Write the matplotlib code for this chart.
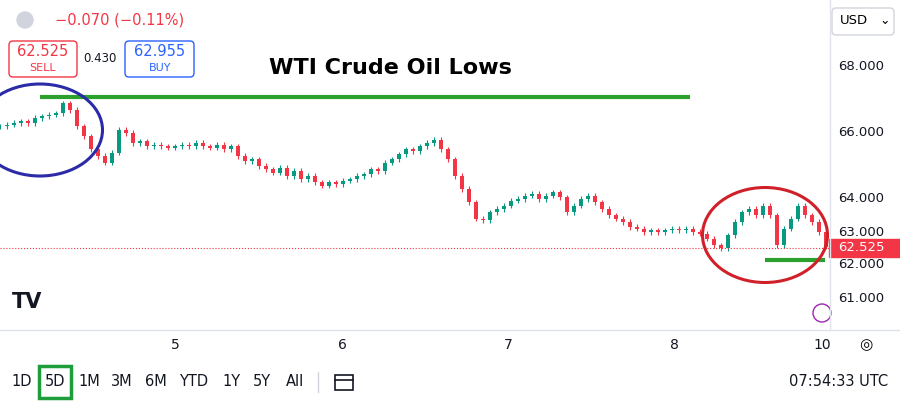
import matplotlib
matplotlib.use("Agg")
import matplotlib.pyplot as plt
from matplotlib.patches import Ellipse, FancyBboxPatch, Rectangle

closes = [66.2,66.25,66.3,66.35,66.3,66.45,66.5,66.55,66.6,66.9,66.7,66.2,65.9,65.5,65.3,65.1,65.4,66.1,66.0,65.7,
65.75,65.6,65.65,65.6,65.55,65.6,65.65,65.6,65.7,65.6,65.55,65.65,65.5,65.6,65.3,65.15,65.2,65.0,64.9,64.8,
64.95,64.7,64.85,64.6,64.7,64.5,64.4,64.5,64.45,64.55,64.6,64.7,64.75,64.9,64.85,65.1,65.2,65.35,65.5,65.45,
65.6,65.7,65.8,65.5,65.2,64.7,64.3,63.9,63.4,63.35,63.6,63.7,63.8,63.95,64.0,64.1,64.15,64.0,64.1,64.2,
64.05,63.6,63.8,64.0,64.1,63.9,63.7,63.5,63.4,63.3,63.15,63.1,63.0,63.05,63.0,63.05,63.1,63.05,63.1,63.0,
62.95,62.8,62.6,62.5,62.9,63.3,63.6,63.7,63.5,63.8,63.5,62.6,63.1,63.4,63.8,63.5,63.3,63.0,62.55]
wick = 0.08
last_price = 62.525
day_labels = ['5', '6', '7', '8', '10']
day_pos = [25.1, 48.9, 72.6, 96.3, 117.4]
price_ticks = [61, 62, 63, 64, 66, 68]
high_level = 67.1
low_level = 62.15
ranges = ['1D', '5D', '1M', '3M', '6M', 'YTD', '1Y', '5Y', 'All']

W, H = 900, 405
fig = plt.figure(figsize=(9, 4.05), dpi=100)
ax = fig.add_axes([0, 75/H, 830/W, 330/H])
up, dn = '#089981', '#F23645'
prev = closes[0]
for i, c in enumerate(closes):
    o = prev
    col = up if c >= o else dn
    ax.vlines(i, min(o, c) - wick, max(o, c) + wick, color=col, lw=0.8)
    ax.bar(i, max(abs(c - o), 0.02), bottom=min(o, c), width=0.55, color=col)
    prev = c
ax.set_xlim(0, 830/7)
ax.set_ylim(60.03, 70.03)
ax.axhline(last_price, color=dn, ls=':', lw=0.8)
ax.hlines(high_level, 40/7, 690/7, color='#2ca02c', lw=3)
ax.hlines(low_level, 765/7, 825/7, color='#2ca02c', lw=3)
ax.set_xticks([]); ax.set_yticks([])
for s in ax.spines.values(): s.set_visible(False)

ov = fig.add_axes([0, 0, 1, 1], facecolor='none')
ov.set_xlim(0, W); ov.set_ylim(H, 0); ov.axis('off')
def py(p): return 67 + (68 - p) * 33
ov.add_patch(Ellipse((40, 130), 125, 92, fill=False, ec='#2b2ba8', lw=2.2))
ov.add_patch(Ellipse((765, 235), 125, 95, fill=False, ec='#d0202a', lw=2.2))
ov.plot([830, 830], [0, 330], color='#e0e3eb', lw=1)
ov.plot([0, 900], [330, 330], color='#e0e3eb', lw=1)
for p in price_ticks:
    ov.text(838, py(p), f'{p:.3f}', va='center', fontsize=9.5, color='#131722')
ov.add_patch(Rectangle((829, py(last_price) - 9), 71, 18, color=dn))
ov.text(838, py(last_price), f'{last_price:.3f}', va='center', fontsize=9.5, color='white')
for lab, p in zip(day_labels, day_pos):
    ov.text(p*7, 345, lab, ha='center', va='center', fontsize=10, color='#131722')
ov.text(390, 68, 'WTI Crude Oil Lows', ha='center', va='center', fontsize=16, fontweight='bold')
ov.add_patch(plt.Circle((25, 20), 8, color='#d1d4dc'))
ov.text(55, 20, '−0.070 (−0.11%)', va='center', fontsize=10.5, color=dn)
ov.add_patch(FancyBboxPatch((9, 41), 68, 36, boxstyle='round,pad=0,rounding_size=4', fill=False, ec=dn, lw=1))
ov.text(43, 52, '62.525', ha='center', va='center', fontsize=10.5, color=dn)
ov.text(43, 68, 'SELL', ha='center', va='center', fontsize=8, color=dn)
ov.text(100, 59, '0.430', ha='center', va='center', fontsize=8.5, color='#131722')
ov.add_patch(FancyBboxPatch((125, 41), 69, 36, boxstyle='round,pad=0,rounding_size=4', fill=False, ec='#2962ff', lw=1))
ov.text(160, 52, '62.955', ha='center', va='center', fontsize=10.5, color='#2962ff')
ov.text(160, 68, 'BUY', ha='center', va='center', fontsize=8, color='#2962ff')
ov.add_patch(FancyBboxPatch((832, 8), 62, 27, boxstyle='round,pad=0,rounding_size=4', fill=False, ec='#d1d4dc', lw=1))
ov.text(840, 21, 'USD', va='center', fontsize=9.5)
ov.text(885, 21, '⌄', va='center', ha='center', fontsize=9)
ov.text(12, 302, 'TV', va='center', fontsize=15, fontweight='bold', color='#131722')
ov.add_patch(plt.Circle((822, 313), 9, fill=False, ec='#9c27b0', lw=1))
ov.text(866, 345, '◎', ha='center', va='center', fontsize=11)
xs = [22, 55, 89, 122, 156, 194, 231, 262, 295]
for lab, x in zip(ranges, xs):
    ov.text(x, 382, lab, ha='center', va='center', fontsize=10.5, color='#131722')
ov.add_patch(Rectangle((39, 366), 32, 32, fill=False, ec='#1e9e3a', lw=2.5))
ov.plot([318, 318], [372, 392], color='#d1d4dc', lw=1)
ov.add_patch(Rectangle((335, 375), 18, 15, fill=False, ec='#131722', lw=1.2))
ov.plot([335, 353], [380, 380], color='#131722', lw=1.2)
ov.text(888, 382, '07:54:33 UTC', ha='right', va='center', fontsize=10.5, color='#131722')
fig.savefig('out.png', dpi=100)
